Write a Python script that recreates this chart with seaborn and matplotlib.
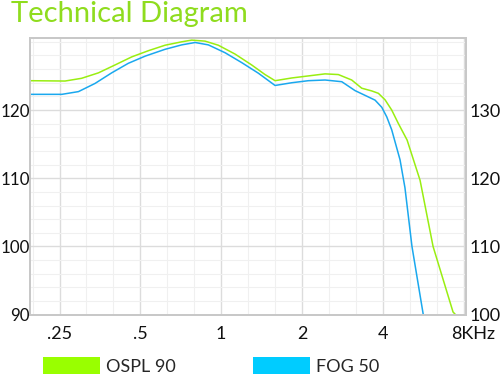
import numpy as np
import pandas as pd
import seaborn as sns
import matplotlib.pyplot as plt
from matplotlib.patches import Patch
from matplotlib.ticker import FixedLocator, NullFormatter
from matplotlib.transforms import ScaledTranslation

# OSPL 90 curve, read against the right axis (dB)
ospl_freq = [0.194, 0.262, 0.302, 0.349, 0.402, 0.465, 0.536, 0.618, 0.713, 0.777,
             0.871, 0.976, 1.127, 1.300, 1.457, 1.588, 1.833, 2.113, 2.439, 2.733,
             3.065, 3.340, 3.640, 3.853, 4.08, 4.32, 4.57, 4.93, 5.51, 6.16,
             7.31, 7.76]
ospl_db = [134.3, 134.25, 134.65, 135.45, 136.6, 137.8, 138.7, 139.5, 140.0, 140.25,
           140.1, 139.5, 138.2, 136.6, 135.2, 134.3, 134.7, 135.0, 135.3, 135.2,
           134.4, 133.2, 132.8, 132.45, 131.5, 130.0, 128.05, 125.6, 119.7, 110.0,
           100.4, 99.3]

# FOG 50 curve, read against the left axis (dB)
fog_freq = [0.194, 0.255, 0.294, 0.339, 0.391, 0.451, 0.521, 0.618, 0.713, 0.800,
            0.896, 1.034, 1.193, 1.376, 1.588, 1.833, 2.113, 2.439, 2.815, 3.153,
            3.437, 3.745, 3.967, 4.14, 4.32, 4.64, 4.84, 5.14, 5.65, 5.9]
fog_db = [122.3, 122.3, 122.7, 123.9, 125.45, 126.85, 127.9, 128.9, 129.55, 129.9,
          129.55, 128.4, 126.95, 125.4, 123.6, 124.0, 124.3, 124.4, 124.15, 122.85,
          122.15, 121.45, 120.4, 119.0, 117.1, 112.7, 108.6, 100.0, 90.25, 86.0]

freq_ticks = [0.25, 0.5, 1, 2, 4, 8]
freq_labels = [".25", ".5", "1", "2", "4", "8KHz"]
left_ticks = [90, 100, 110, 120]
right_ticks = [100, 110, 120, 130]
series_names = ["OSPL 90", "FOG 50"]

GREEN = "#99ee11"
BLUE = "#1aa8ee"
GRID_MAJOR = "#dcdcdc"
GRID_MINOR = "#f0f0f0"

sns.set_style("white")
plt.rcParams["font.family"] = ["Lato", "DejaVu Sans"]

fig = plt.figure(figsize=(5.0, 3.74), dpi=100)
ax = fig.add_axes([0.06, 0.1586, 0.8714, 0.7411])
ax2 = ax.twinx()

sns.lineplot(x=fog_freq, y=fog_db, ax=ax, color=BLUE, linewidth=1.1)
sns.lineplot(x=ospl_freq, y=ospl_db, ax=ax2, color=GREEN, linewidth=1.1)

for a in (ax, ax2):
    a.set_xscale("log")
    a.set_xlim(0.194, 8.15)
ax.set_ylim(90, 130.63)
ax2.set_ylim(100, 140.63)

# grid: octaves + third octaves, 10 dB + 2 dB
minor_x = [2 ** (k / 3) for k in range(-8, 10) if k % 3 != 0]
ax.xaxis.set_major_locator(FixedLocator(freq_ticks))
ax.xaxis.set_minor_locator(FixedLocator(minor_x))
ax.xaxis.set_minor_formatter(NullFormatter())
ax.set_xticklabels(freq_labels)
ax.set_yticks(left_ticks)
ax.set_yticks(np.arange(90, 131, 2), minor=True)
ax2.set_yticks(right_ticks)
ax2.set_yticks([], minor=True)

ax.grid(True, which="major", color=GRID_MAJOR, linewidth=1.0)
ax.grid(True, which="minor", color=GRID_MINOR, linewidth=0.8)
ax.set_axisbelow(True)

ax.tick_params(axis="both", which="both", length=0, labelsize=13, colors="#111111")
ax.tick_params(axis="y", pad=0.2, labelsize=12.2)
ax.tick_params(axis="x", pad=8)
ax2.tick_params(axis="y", length=0, labelsize=13, colors="#111111", pad=3)

for a in (ax, ax2):
    for s in a.spines.values():
        s.set_color("#c8c8c8")
        s.set_linewidth(1.4)

# push the "8KHz" label right so the number sits on its grid line
lab = ax.get_xticklabels()[-1]
lab.set_transform(lab.get_transform() + ScaledTranslation(0.095, 0, fig.dpi_scale_trans))

ax.set_xlabel("")
ax.set_ylabel("")
ax2.set_ylabel("")

fig.text(0.022, 0.997, "Technical Diagram", color="#8fdc1e", fontsize=21,
         ha="left", va="top")

handles = [Patch(facecolor="#99ff00", edgecolor="none"),
           Patch(facecolor="#00ccff", edgecolor="none")]
fig.legend(handles, series_names, loc="center left", bbox_to_anchor=(0.086, 0.022),
           ncol=2, frameon=False, fontsize=13, handlelength=3.15, handleheight=1.16,
           handletextpad=0.33, columnspacing=4.3, borderpad=0, borderaxespad=0)

fig.savefig("out.png", dpi=100)
